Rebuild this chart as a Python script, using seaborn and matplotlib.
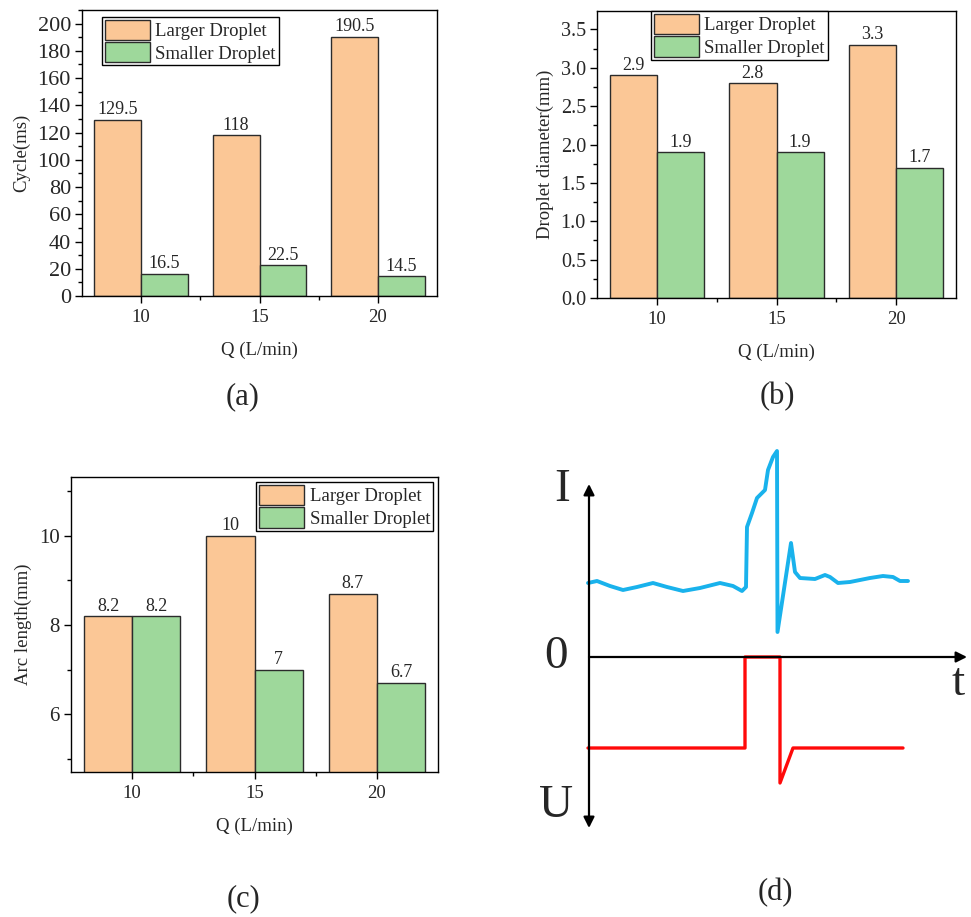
import numpy as np
import pandas as pd
import matplotlib
matplotlib.use("Agg")
import matplotlib.pyplot as plt
from matplotlib.ticker import AutoMinorLocator, FixedLocator, MultipleLocator, FormatStrFormatter
import seaborn as sns

# ---------------- data ----------------
flow_rates = ["10", "15", "20"]
droplet_types = ["Larger Droplet", "Smaller Droplet"]

cycle_larger = [129.5, 118, 190.5]
cycle_smaller = [16.5, 22.5, 14.5]

diameter_larger = [2.9, 2.8, 3.3]
diameter_smaller = [1.9, 1.9, 1.7]

arc_larger = [8.2, 10, 8.7]
arc_smaller = [8.2, 7, 6.7]

# schematic waveforms (panel d), in drawing units
current_t = [588, 597, 610, 623, 637, 653, 667, 683, 700, 720, 733, 742, 746, 747,
             752, 757, 762, 765, 768, 773, 777, 777.5, 791, 795, 800, 815, 825, 830,
             838, 850, 870, 883, 893, 900, 908]
current_I = [583, 581, 586, 590, 587, 583, 587, 591, 588, 583, 586, 591, 587, 527,
             513, 498, 493, 490, 470, 457, 451, 632, 543, 572, 578, 579, 575, 577,
             583, 582, 578, 576, 577, 581, 581]
voltage_t = [588, 745, 745, 780, 780, 793, 903]
voltage_U = [748, 748, 657, 657, 783, 748, 748]

orange = "#FBC796"
green = "#9ED89B"
edge = "#2b2b2b"

sns.set_theme(style="ticks")
plt.rcParams["font.family"] = ["Liberation Serif", "DejaVu Serif"]
plt.rcParams["xtick.direction"] = "out"
plt.rcParams["ytick.direction"] = "out"

FS = 13.5

fig = plt.figure(figsize=(9.71, 9.17), dpi=100)
W, H = 971.0, 917.0


def axes_px(x0, y0, x1, y1):
    return fig.add_axes([x0 / W, 1 - y1 / H, (x1 - x0) / W, (y1 - y0) / H])


def make_df(larger, smaller):
    return pd.DataFrame({
        "Q": flow_rates * 2,
        "type": [droplet_types[0]] * 3 + [droplet_types[1]] * 3,
        "value": list(larger) + list(smaller),
    })


def bar_panel(ax, larger, smaller, ylabel, ylim, major, ytick_fs, legend_kw):
    df = make_df(larger, smaller)
    sns.barplot(data=df, x="Q", y="value", hue="type", order=flow_rates,
                hue_order=droplet_types, palette=[orange, green], saturation=1,
                edgecolor=edge, linewidth=1.0, width=0.79, ax=ax, errorbar=None)
    for cont in ax.containers:
        ax.bar_label(cont, fmt="%g", fontsize=FS - 0.5, padding=1)
    ax.set_xlim(-0.5, 2.5)
    ax.set_ylim(*ylim)
    ax.yaxis.set_major_locator(MultipleLocator(major))
    ax.yaxis.set_minor_locator(AutoMinorLocator(2))
    ax.xaxis.set_minor_locator(FixedLocator([0.5, 1.5]))
    ax.tick_params(axis="both", which="major", length=5, width=1,
                   color="black", pad=4)
    ax.tick_params(axis="x", which="major", labelsize=FS)
    ax.tick_params(axis="y", which="major", labelsize=ytick_fs, pad=3)
    ax.tick_params(axis="both", which="minor", length=3, width=1, color="black")
    ax.set_xlabel("Q (L/min)", fontsize=FS, labelpad=12)
    ax.set_ylabel(ylabel, fontsize=FS, labelpad=5)
    for sp in ax.spines.values():
        sp.set_visible(True)
        sp.set_color("black")
        sp.set_linewidth(1.0)
    leg = ax.legend(fontsize=FS, frameon=True, fancybox=False, framealpha=1,
                    edgecolor="black", handlelength=2.4, handleheight=1.3,
                    labelspacing=0.1, borderpad=0.15, handletextpad=0.3,
                    borderaxespad=0, **legend_kw)
    leg.get_frame().set_linewidth(1.0)
    for h in leg.legend_handles:
        h.set_edgecolor(edge)
        h.set_linewidth(1.0)


# (a)
ax_a = axes_px(82, 10, 437, 296)
bar_panel(ax_a, cycle_larger, cycle_smaller, "Cycle(ms)", (0, 210), 20, 16,
          dict(loc="upper left", bbox_to_anchor=(0.056, 0.976)))

# (b)
ax_b = axes_px(597, 11, 956, 298)
bar_panel(ax_b, diameter_larger, diameter_smaller, "Droplet diameter(mm)",
          (0, 3.74), 0.5, 14.5, dict(loc="upper left", bbox_to_anchor=(0.15, 1.0)))
ax_b.yaxis.set_major_formatter(FormatStrFormatter("%.1f"))

# (c)
ax_c = axes_px(71, 477, 438, 772)
bar_panel(ax_c, arc_larger, arc_smaller, "Arc length(mm)", (4.7, 11.32), 2, 15,
          dict(loc="upper right", bbox_to_anchor=(0.986, 0.983)))
ax_c.yaxis.set_minor_locator(MultipleLocator(1))

# (d) schematic
ax_d = axes_px(530, 430, 971, 840)
ax_d.set_xlim(530, 971)
ax_d.set_ylim(840, 430)
ax_d.axis("off")
sns.lineplot(x=current_t, y=current_I, sort=False, estimator=None,
             color="#19B2EC", linewidth=2.8, ax=ax_d)
sns.lineplot(x=voltage_t, y=voltage_U, sort=False, estimator=None,
             color="#FF0A0A", linewidth=2.4, ax=ax_d)
ax_d.annotate("", xy=(589, 484), xytext=(589, 828),
              arrowprops=dict(arrowstyle="<|-|>", color="black", lw=1.6,
                              mutation_scale=16, shrinkA=0, shrinkB=0))
ax_d.annotate("", xy=(967, 657), xytext=(589, 657),
              arrowprops=dict(arrowstyle="-|>", color="black", lw=1.6,
                              mutation_scale=16, shrinkA=0, shrinkB=0))
big = 34
ax_d.text(562, 490, "I", fontsize=big, ha="center", va="center")
ax_d.text(556, 657, "0", fontsize=big, ha="center", va="center")
ax_d.text(958, 684, "t", fontsize=big, ha="center", va="center")
ax_d.text(556, 806, "U", fontsize=big, ha="center", va="center")

# panel labels
lab = 22
fig.text(243 / W, 1 - 397 / H, "(a)", fontsize=lab, ha="center", va="center")
fig.text(777 / W, 1 - 397 / H, "(b)", fontsize=lab, ha="center", va="center")
fig.text(243 / W, 1 - 899 / H, "(c)", fontsize=lab, ha="center", va="center")
fig.text(775 / W, 1 - 893 / H, "(d)", fontsize=lab, ha="center", va="center")

fig.savefig("out.png", dpi=100)
